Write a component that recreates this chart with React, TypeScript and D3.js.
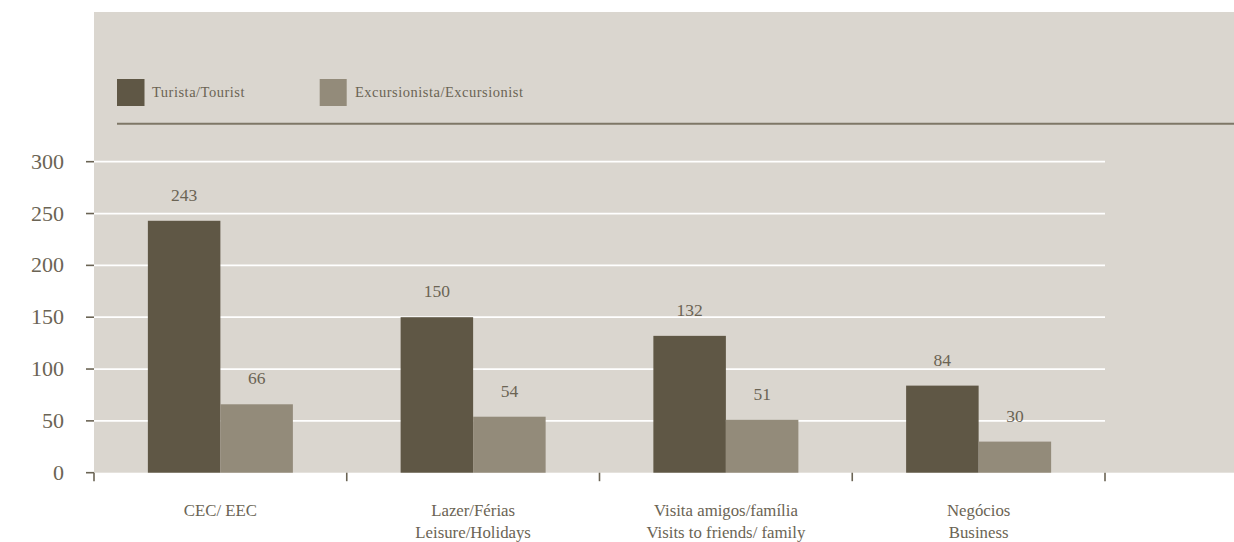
import React from "react";
import * as d3 from "d3";

const categories: string[][] = [
  ["CEC/ EEC"],
  ["Lazer/Férias", "Leisure/Holidays"],
  ["Visita amigos/família", "Visits to friends/ family"],
  ["Negócios", "Business"],
];
const seriesNames = ["Turista/Tourist", "Excursionista/Excursionist"];
const turista = [243, 150, 132, 84];
const excursionista = [66, 54, 51, 30];
const yTicks = [0, 50, 100, 150, 200, 250, 300];

const W = 1234;
const H = 542;
const BG = "#dad6cf";
const DARK = "#5f5745";
const LIGHT = "#938b7a";
const TEXT = "#6b6454";
const FONT = "'Liberation Serif', 'Times New Roman', serif";

export default function App() {
  const plotLeft = 94;
  const plotRight = 1105;
  const plotTop = 12;
  const zeroY = 472.7;

  const y = d3.scaleLinear().domain([0, 300]).range([zeroY, 161.7]);
  const x0 = d3
    .scaleBand<number>()
    .domain(categories.map((_, i) => i))
    .range([plotLeft, plotRight])
    .paddingInner(0)
    .paddingOuter(0);
  const x1 = d3
    .scaleBand<number>()
    .domain([0, 1])
    .range([0, x0.bandwidth()])
    .paddingOuter(0.743)
    .paddingInner(0);

  const series = [turista, excursionista];
  const colors = [DARK, LIGHT];
  const catTicks = d3.range(categories.length + 1).map((i) => plotLeft + i * x0.bandwidth());

  return (
    <svg
      width={W}
      height={H}
      style={{ position: "absolute", left: 0, top: 0, display: "block" }}
      fontFamily={FONT}
    >
      <rect x={plotLeft} y={plotTop} width={W - plotLeft} height={zeroY - plotTop} fill={BG} />

      {/* legend */}
      <g>
        <rect x={117} y={79} width={27.5} height={27} fill={DARK} />
        <text x={152} y={97} fontSize={14.5} fill={TEXT} letterSpacing={0.5}>
          {seriesNames[0]}
        </text>
        <rect x={319.7} y={79} width={27} height={27} fill={LIGHT} />
        <text x={355} y={97} fontSize={14.5} fill={TEXT} letterSpacing={0.5}>
          {seriesNames[1]}
        </text>
        <line x1={117} x2={W} y1={123.8} y2={123.8} stroke="#7e7767" strokeWidth={2} />
      </g>

      {/* gridlines */}
      {yTicks
        .filter((t) => t > 0)
        .map((t) => (
          <line
            key={t}
            x1={plotLeft}
            x2={plotRight}
            y1={y(t)}
            y2={y(t)}
            stroke="#ffffff"
            strokeWidth={1.8}
          />
        ))}

      {/* bars */}
      {categories.map((_, ci) =>
        series.map((s, si) => {
          const v = s[ci];
          const bx = (x0(ci) as number) + (x1(si) as number);
          const bw = x1.bandwidth();
          return (
            <g key={`${ci}-${si}`}>
              <rect x={bx} y={y(v)} width={bw} height={zeroY - y(v)} fill={colors[si]} />
              <text
                x={bx + bw / 2}
                y={y(v) - 20}
                textAnchor="middle"
                fontSize={17.5}
                fill={TEXT}
              >
                {v}
              </text>
            </g>
          );
        })
      )}

      {/* y axis */}
      {yTicks.map((t) => (
        <g key={t}>
          <line x1={86} x2={plotLeft} y1={y(t)} y2={y(t)} stroke={TEXT} strokeWidth={1.6} />
          <text x={64} y={y(t) + 7} textAnchor="end" fontSize={22} fill={TEXT}>
            {t}
          </text>
        </g>
      ))}

      {/* x axis ticks */}
      {catTicks.map((tx, i) => (
        <line key={i} x1={tx} x2={tx} y1={zeroY} y2={zeroY + 8.5} stroke={TEXT} strokeWidth={1.6} />
      ))}

      {/* category labels */}
      {categories.map((lines, ci) => (
        <text
          key={ci}
          x={(x0(ci) as number) + x0.bandwidth() / 2}
          y={516}
          textAnchor="middle"
          fontSize={16.8}
          fill={TEXT}
        >
          {lines.map((l, li) => (
            <tspan key={li} x={(x0(ci) as number) + x0.bandwidth() / 2} dy={li === 0 ? 0 : 22}>
              {l}
            </tspan>
          ))}
        </text>
      ))}
    </svg>
  );
}
